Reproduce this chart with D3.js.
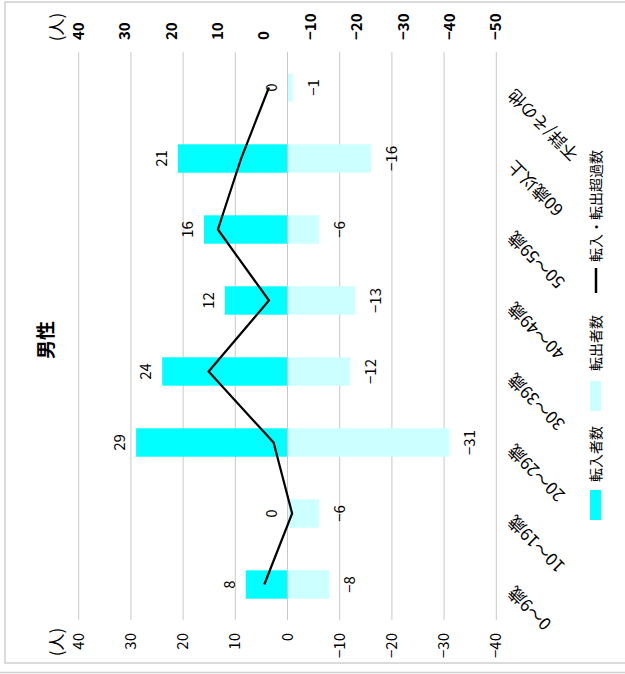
<!DOCTYPE html>
<html>
<head>
  <meta charset="utf-8">
  <title>男性</title>
  <script src="https://d3js.org/d3.v7.min.js"></script>
  <style>
    body { margin: 0; background: #fff; }
    text { font-family: "Noto Sans CJK JP", sans-serif; }
  </style>
</head>
<body>
<div id="chart"></div>

<script type="text/javascript">
  // データ（元の並び：0～9歳 から）
  const categories = ['0～9歳', '10～19歳', '20～29歳', '30～39歳', '40～49歳', '50～59歳', '60歳以上', '不詳/その他'];
  const inflow  = [8, 0, 29, 24, 12, 16, 21, 0];
  const outflow = [-8, -6, -31, -12, -13, -6, -16, -1];
  const net     = [0, -6, -2, 12, -1, 10, 5, -1];

  const primaryTicks   = [40, 30, 20, 10, 0, -10, -20, -30, -40];
  const secondaryTicks = [40, 30, 20, 10, 0, -10, -20, -30, -40, -50];
  const seriesNames = ['転入者数', '転出者数', '転入・転出超過数'];
  const colors = ['#00ffff', '#ccffff', '#000000'];

  const W = 625, H = 674;
  // 回転したグラフ：値軸は横、カテゴリは縦
  const plot = {left: 78.7, right: 496.3, top: 52, bottom: 620};

  const fmt = v => v < 0 ? '\u2212' + Math.abs(v) : String(v);

  const svg = d3.select('#chart')
    .append('svg')
      .attr('width', W)
      .attr('height', H);

  // 枠
  svg.append('rect')
     .attr('x', 5).attr('y', 2)
     .attr('width', 640).attr('height', 661)
     .attr('fill', 'none')
     .attr('stroke', '#d0d0d0')
     .attr('stroke-width', 1.5);
  svg.append('line')
     .attr('x1', 0).attr('x2', W)
     .attr('y1', 672.5).attr('y2', 672.5)
     .attr('stroke', '#d0d0d0')
     .attr('stroke-width', 1.5);

  let xScale = d3.scaleLinear()
                 .domain([40, -40])
                 .range([plot.left, plot.right]);
  let x2Scale = d3.scaleLinear()
                 .domain([40, -50])
                 .range([plot.left, plot.right]);
  let yScale = d3.scaleBand()
                 .domain(categories.slice().reverse())
                 .range([plot.top, plot.bottom])
                 .paddingInner(0.6)
                 .paddingOuter(0.3);

  // グリッド線
  svg.append('g')
     .selectAll('line')
     .data(primaryTicks)
     .enter()
     .append('line')
     .attr('x1', d => xScale(d)).attr('x2', d => xScale(d))
     .attr('y1', plot.top).attr('y2', plot.bottom)
     .attr('stroke', '#c8c8c8')
     .attr('stroke-width', 1);

  // 下側の軸ラベル（第1軸）
  svg.append('g')
     .selectAll('text')
     .data(primaryTicks)
     .enter()
     .append('text')
     .attr('transform', d => `translate(${xScale(d) + 5},633) rotate(-90)`)
     .style('text-anchor', 'end')
     .attr('font-size', '15px')
     .attr('fill', '#000')
     .text(fmt);

  // 上側の軸ラベル（第2軸）
  svg.append('g')
     .selectAll('text')
     .data(secondaryTicks)
     .enter()
     .append('text')
     .attr('transform', d => `translate(${x2Scale(d) + 5},40) rotate(-90)`)
     .style('text-anchor', 'start')
     .attr('font-size', '15px')
     .attr('font-weight', 'bold')
     .attr('fill', '#000')
     .text(fmt);

  // 単位
  svg.append('text')
     .attr('transform', 'translate(63,27) rotate(-90)')
     .style('text-anchor', 'middle')
     .attr('font-size', '17px')
     .text('(人)');
  svg.append('text')
     .attr('transform', 'translate(63,642) rotate(-90)')
     .style('text-anchor', 'middle')
     .attr('font-size', '17px')
     .text('(人)');

  // タイトル
  svg.append('text')
     .attr('transform', 'translate(53,340) rotate(-90)')
     .style('text-anchor', 'middle')
     .attr('font-size', '19px')
     .attr('font-weight', 'bold')
     .text('男性');

  const rows = categories.map((c, i) => ({cat: c, inV: inflow[i], outV: outflow[i], net: net[i]}));

  // 転入者数
  svg.append('g')
     .selectAll('rect')
     .data(rows)
     .enter()
     .append('rect')
     .attr('x', d => xScale(d.inV))
     .attr('y', d => yScale(d.cat))
     .attr('width', d => xScale(0) - xScale(d.inV))
     .attr('height', yScale.bandwidth())
     .attr('fill', colors[0]);

  // 転出者数
  svg.append('g')
     .selectAll('rect')
     .data(rows)
     .enter()
     .append('rect')
     .attr('x', xScale(0))
     .attr('y', d => yScale(d.cat))
     .attr('width', d => xScale(d.outV) - xScale(0))
     .attr('height', yScale.bandwidth())
     .attr('fill', colors[1]);

  // ゼロ線
  svg.append('line')
     .attr('x1', xScale(0)).attr('x2', xScale(0))
     .attr('y1', plot.top).attr('y2', plot.bottom)
     .attr('stroke', '#c8c8c8')
     .attr('stroke-width', 1);

  const yc = d => yScale(d.cat) + yScale.bandwidth() / 2;

  // 転入・転出超過数の折れ線
  let line = d3.line()
               .x(d => x2Scale(d.net))
               .y(yc);
  svg.append('path')
     .datum(rows)
     .attr('d', line)
     .attr('fill', 'none')
     .attr('stroke', colors[2])
     .attr('stroke-width', 2.2)
     .attr('stroke-linejoin', 'miter');

  // データラベル
  svg.append('g')
     .selectAll('text')
     .data(rows)
     .enter()
     .append('text')
     .attr('transform', d => `translate(${xScale(d.inV) - 11},${yc(d)}) rotate(-90)`)
     .style('text-anchor', 'middle')
     .attr('font-size', '15px')
     .text(d => fmt(d.inV));
  svg.append('g')
     .selectAll('text')
     .data(rows)
     .enter()
     .append('text')
     .attr('transform', d => `translate(${xScale(d.outV) + 26},${yc(d)}) rotate(-90)`)
     .style('text-anchor', 'middle')
     .attr('font-size', '15px')
     .text(d => fmt(d.outV));

  // カテゴリラベル
  svg.append('g')
     .selectAll('text')
     .data(rows)
     .enter()
     .append('text')
     .attr('transform', d => `translate(511,${yc(d) + 5}) rotate(-135)`)
     .style('text-anchor', 'end')
     .attr('dy', '0.35em')
     .attr('font-size', '17px')
     .text(d => d.cat);

  // 凡例
  let legend = svg.append('g');
  legend.append('rect')
        .attr('x', 590).attr('y', 490)
        .attr('width', 11).attr('height', 30)
        .attr('fill', colors[0]);
  legend.append('text')
        .attr('transform', 'translate(601,482) rotate(-90)')
        .style('text-anchor', 'start')
        .attr('font-size', '14px')
        .text(seriesNames[0]);
  legend.append('rect')
        .attr('x', 590).attr('y', 381)
        .attr('width', 11).attr('height', 30)
        .attr('fill', colors[1]);
  legend.append('text')
        .attr('transform', 'translate(601,371) rotate(-90)')
        .style('text-anchor', 'start')
        .attr('font-size', '14px')
        .text(seriesNames[1]);
  legend.append('line')
        .attr('x1', 596).attr('x2', 596)
        .attr('y1', 268).attr('y2', 293)
        .attr('stroke', colors[2])
        .attr('stroke-width', 2.5);
  legend.append('text')
        .attr('transform', 'translate(601,262) rotate(-90)')
        .style('text-anchor', 'start')
        .attr('font-size', '14px')
        .text(seriesNames[2]);
</script>
</body>
</html>
